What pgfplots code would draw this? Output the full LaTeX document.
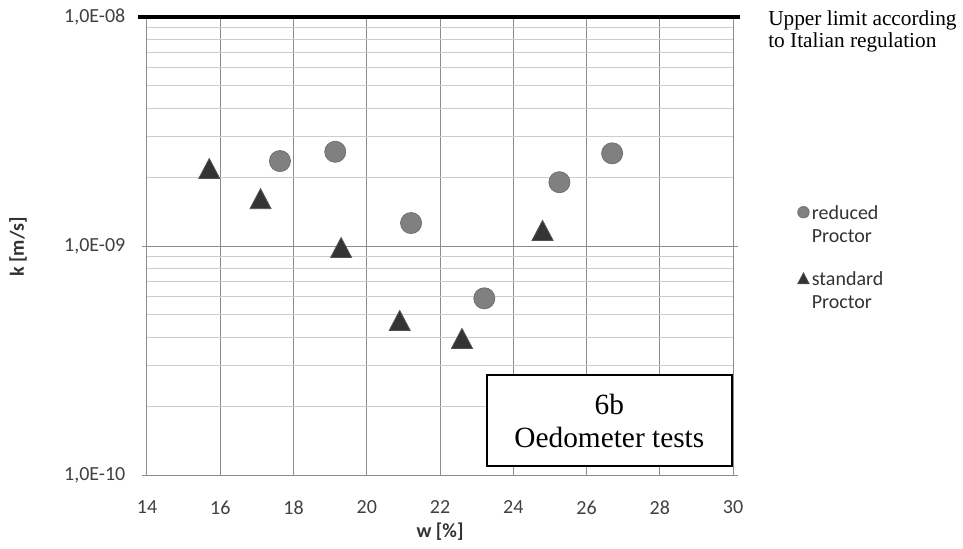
\documentclass[border=0pt]{standalone}
\usepackage{pgfplots}
\pgfplotsset{compat=1.18}
\usepackage{fontspec}
\setmainfont{Carlito}
\newfontfamily\serif{Liberation Serif}

\definecolor{gridmajor}{RGB}{140,140,140}
\definecolor{gridminor}{RGB}{205,205,205}
\definecolor{reducedfill}{RGB}{128,128,128}
\definecolor{reducededge}{RGB}{112,112,112}
\definecolor{standardfill}{RGB}{52,52,52}

% centred triangle marker (width 2r, height 1.9r)
\pgfdeclareplotmark{ctri}{%
  \pgfpathmoveto{\pgfpoint{0pt}{0.95\pgfplotmarksize}}%
  \pgfpathlineto{\pgfpoint{-\pgfplotmarksize}{-0.95\pgfplotmarksize}}%
  \pgfpathlineto{\pgfpoint{\pgfplotmarksize}{-0.95\pgfplotmarksize}}%
  \pgfpathclose
  \pgfusepathqfillstroke}

% hydraulic conductivity k [m/s] vs water content w [%]
\pgfplotstableread{
w      k
17.63  2.35e-9
19.14  2.58e-9
21.21  1.26e-9
23.21  5.91e-10
25.26  1.90e-9
26.70  2.54e-9
}\reduced
\pgfplotstableread{
w      k
15.70  2.18e-9
17.10  1.61e-9
19.30  0.985e-9
20.90  4.73e-10
22.60  3.95e-10
24.80  1.17e-9
}\standard

\begin{document}
\begin{tikzpicture}
\path[use as bounding box] (-110.25pt,-55.5pt) rectangle (612pt,356.25pt);
\begin{axis}[
  at={(0pt,0pt)}, anchor=south west,
  scale only axis, width=439.5pt, height=343.5pt,
  ymode=log,
  xmin=14, xmax=30, ymin=1e-10, ymax=1e-8,
  xtick={14,16,...,30},
  ytick={1e-10,1e-9,1e-8},
  yticklabels={{1,0E-10},{1,0E-09},{1,0E-08}},
  /pgf/number format/assume math mode=true,
  font=\fontsize{15}{18}\selectfont,
  tick label style={font=\fontsize{15}{18}\selectfont, text=black!75},
  xticklabel style={yshift=-12pt},
  yticklabel style={xshift=-9pt},
  xmajorgrids, ymajorgrids, yminorgrids,
  major grid style={gridmajor, line width=0.75pt},
  minor grid style={gridminor, line width=0.75pt},
  axis line style={gridmajor, line width=0.75pt},
  xtick style={draw=none},
  ytick style={gridmajor, line width=0.75pt},
  minor tick length=0pt,
  major tick length=3.75pt,
  tick align=outside,
  xlabel={\textbf{w [\%]}},
  ylabel={\textbf{k [m/s]}},
  xlabel style={at={(axis description cs:0.5,-0.1245)}, anchor=center, text=black!80},
  ylabel style={at={(axis description cs:-0.22,0.498)}, anchor=center, rotate=0, text=black!80},
  clip=false,
  legend style={at={(axis description cs:1.110,0.600)}, anchor=north west,
    draw=none, fill=none, inner sep=0pt, row sep=32pt,
    font=\fontsize{15}{17.25}\selectfont, text=black!80},
  legend cell align=left,
  legend image code/.code={%
    \draw[mark repeat=2,mark phase=2] plot coordinates {(0cm,0cm)(0.2cm,0cm)(0.5cm,0cm)};},
  legend image post style={mark size=4.3pt},
]
\addplot[only marks, mark=*, mark size=7.9pt,
  mark options={fill=reducedfill, draw=reducededge, line width=0.6pt}]
  table[x=w, y=k] {\reduced};
\addlegendentry{\begin{tabular}[t]{@{}l@{}}reduced\\Proctor\end{tabular}}

\addplot[only marks, mark=ctri, mark size=7.9pt,
  mark options={fill=standardfill, draw=standardfill!85!white, line width=0.6pt}]
  table[x=w, y=k] {\standard};
\addlegendentry{\begin{tabular}[t]{@{}l@{}}standard\\Proctor\end{tabular}}

% regulatory upper limit
\addplot[black, line width=3pt, forget plot] coordinates {(13.75,1e-8) (30.19,1e-8)};

\node[anchor=base west, inner sep=0pt, font=\serif\fontsize{16}{19}\selectfont]
  at (rel axis cs:1.0597,0.9825) {Upper limit according};
\node[anchor=base west, inner sep=0pt, font=\serif\fontsize{16}{19}\selectfont]
  at (rel axis cs:1.0597,0.9345) {to Italian regulation};

\node[draw=black, line width=1.5pt, fill=white, align=center,
  minimum width=183.75pt, minimum height=68.25pt, inner sep=0pt,
  font=\serif\fontsize{22}{24.75}\selectfont]
  at (rel axis cs:0.789,0.119) {6b\\Oedometer tests};
\end{axis}
\end{tikzpicture}
\end{document}
